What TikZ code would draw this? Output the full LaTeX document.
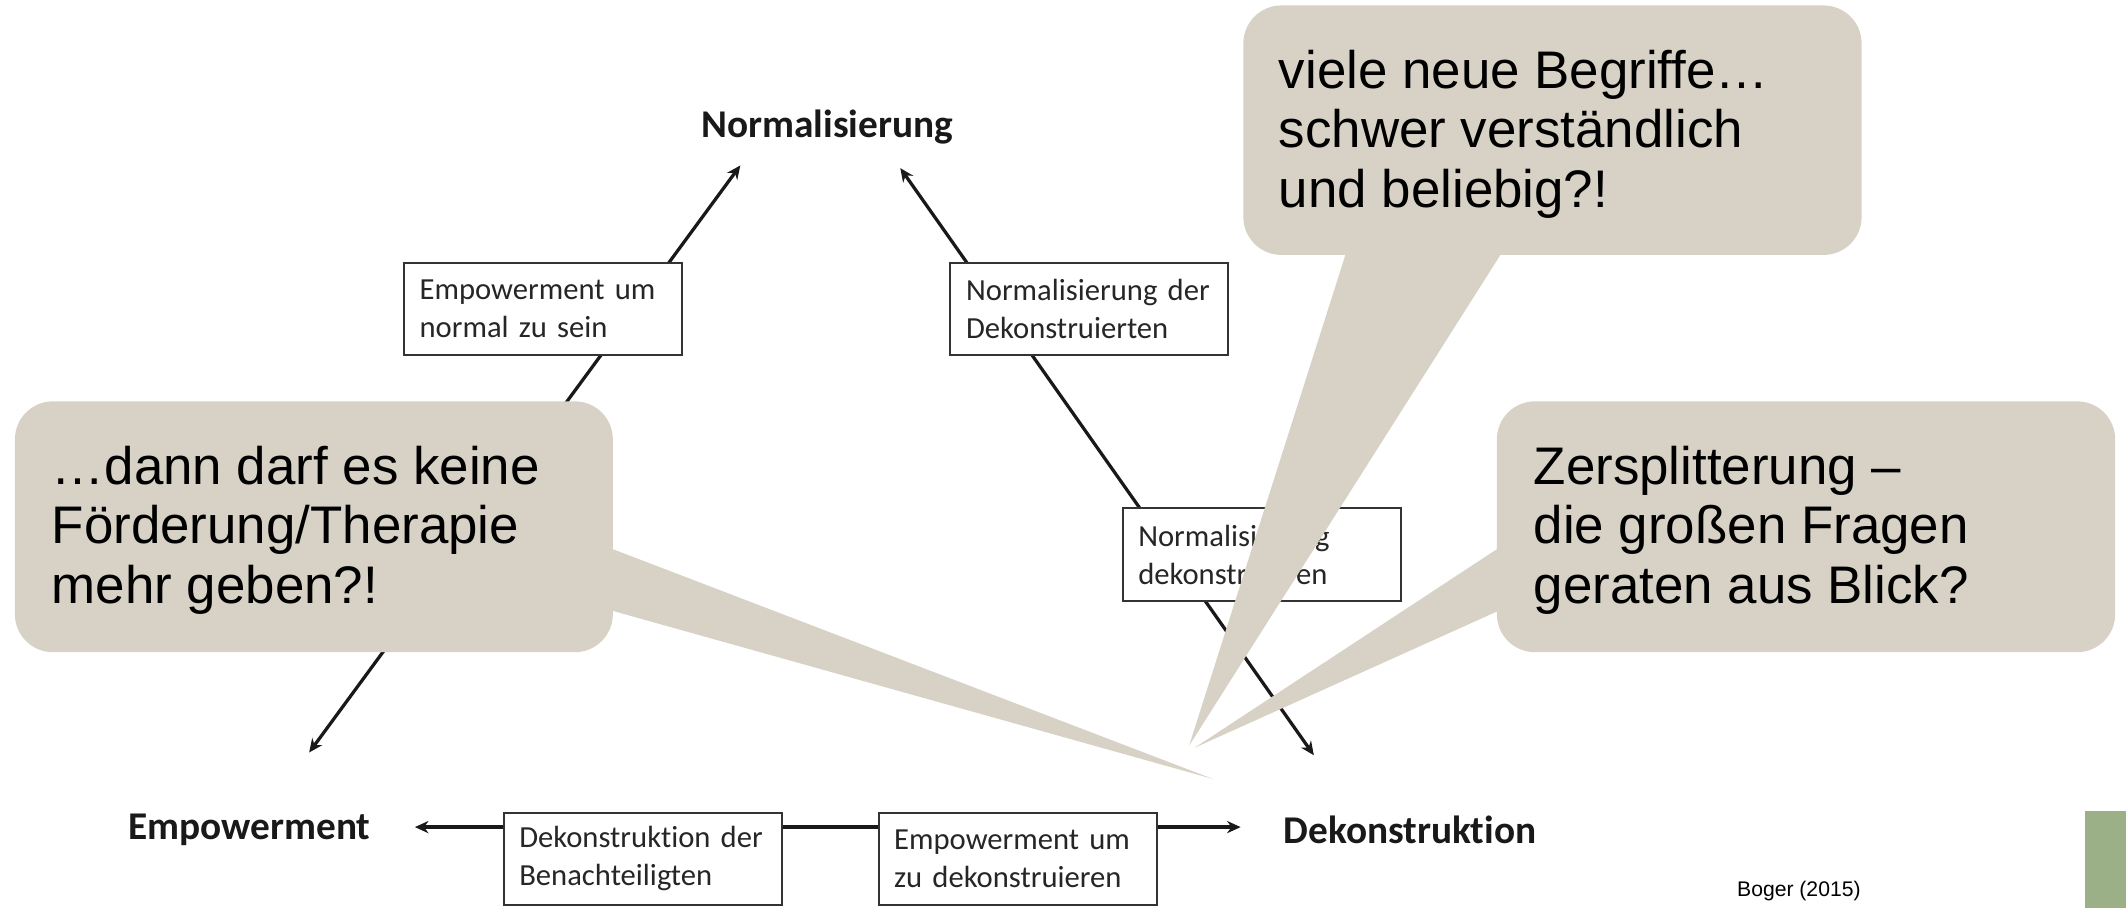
\documentclass[tikz,border=0pt]{standalone}
\usepackage{fontspec}
\setmainfont{Liberation Sans}
\newfontfamily\calibri[Ligatures=NoCommon]{Carlito}
\usetikzlibrary{arrows.meta}
\definecolor{bubble}{HTML}{D7D2C5}
\definecolor{accent}{HTML}{9BB087}
\begin{document}
\begin{tikzpicture}[x=1pt,y=-1pt,
  pole/.style={font=\calibri\bfseries\fontsize{29}{34}\selectfont, inner sep=0pt, text=black!90},
  stagebox/.style={draw=black!80, line width=1.5pt, fill=white,
    minimum width=205pt, minimum height=68pt, text width=182pt,
    inner xsep=11.5pt, inner ysep=0pt, align=left,
    font=\calibri\fontsize{22.6}{28}\selectfont, text=black!85},
  flow/.style={line width=2.4pt, draw=black!90,
    {Stealth[length=10pt,width=9pt]}-{Stealth[length=10pt,width=9pt]}},
  bubbletext/.style={font=\fontsize{39}{44}\selectfont, align=left,
    inner sep=0pt, anchor=west, text=black},
]
\useasboundingbox (0,0) rectangle (1568,670);

% the three poles
\node[pole] (norm) at (610,94)  {Normalisierung};
\node[pole] (emp)  at (184,612) {Empowerment};
\node[pole] (dek)  at (1040,612) {Dekonstruktion};

% arrow ends beside the poles
\coordinate (tipNL) at (546,122);
\coordinate (tipNR) at (664,124);
\coordinate (tipE)  at (228,555);
\coordinate (tipD)  at (969,557);
\coordinate (tipEh) at (306,610);
\coordinate (tipDh) at (915,610);

% the three sides of the triangle
\draw[flow] (tipE) -- (tipNL);
\draw[flow] (tipNR) -- (tipD);
\draw[flow] (tipEh) -- (tipDh);

% labels sitting on the sides
\node[stagebox] (bA) at (400.5,228) {Empowerment um\\normal zu sein};
\node[stagebox] (bB) at (803.5,228) {Normalisierung der\\Dekonstruierten};
\node[stagebox] (bC) at (930.5,409) {Normalisierung\\dekonstruieren};
\node[stagebox] (bD) at (474,633.5) {Dekonstruktion der\\Benachteiligten};
\node[stagebox] (bE) at (750.5,633.5) {Empowerment um\\zu dekonstruieren};

% speech bubbles
\fill[bubble, rounded corners=28pt] (11,296) rectangle (452,481);
\fill[bubble] (430,396.6) -- (894.6,574.5) -- (430,444.4) -- cycle;

\fill[bubble, rounded corners=28pt] (917,4) rectangle (1373,188);
\fill[bubble] (998,170) -- (877,550) -- (1118,170) -- cycle;

\fill[bubble, rounded corners=28pt] (1104,296) rectangle (1560,481);
\fill[bubble] (1124,391.9) -- (881,551.5) -- (1124,442) -- cycle;

\node[bubbletext] (q1) at (38,391) {…dann darf es keine\\Förderung/Therapie\\mehr geben?!};
\node[bubbletext] (q2) at (943,99) {viele neue Begriffe…\\schwer verständlich\\und beliebig?!};
\node[bubbletext] (q3) at (1131,391) {Zersplitterung –\\die großen Fragen\\geraten aus Blick?};

% source and corner mark
\node[font=\fontsize{15.6}{18}\selectfont, inner sep=0pt, anchor=west] (src) at (1281,657) {Boger (2015)};
\fill[accent] (1538,598) rectangle (1568,670);
\end{tikzpicture}
\end{document}
